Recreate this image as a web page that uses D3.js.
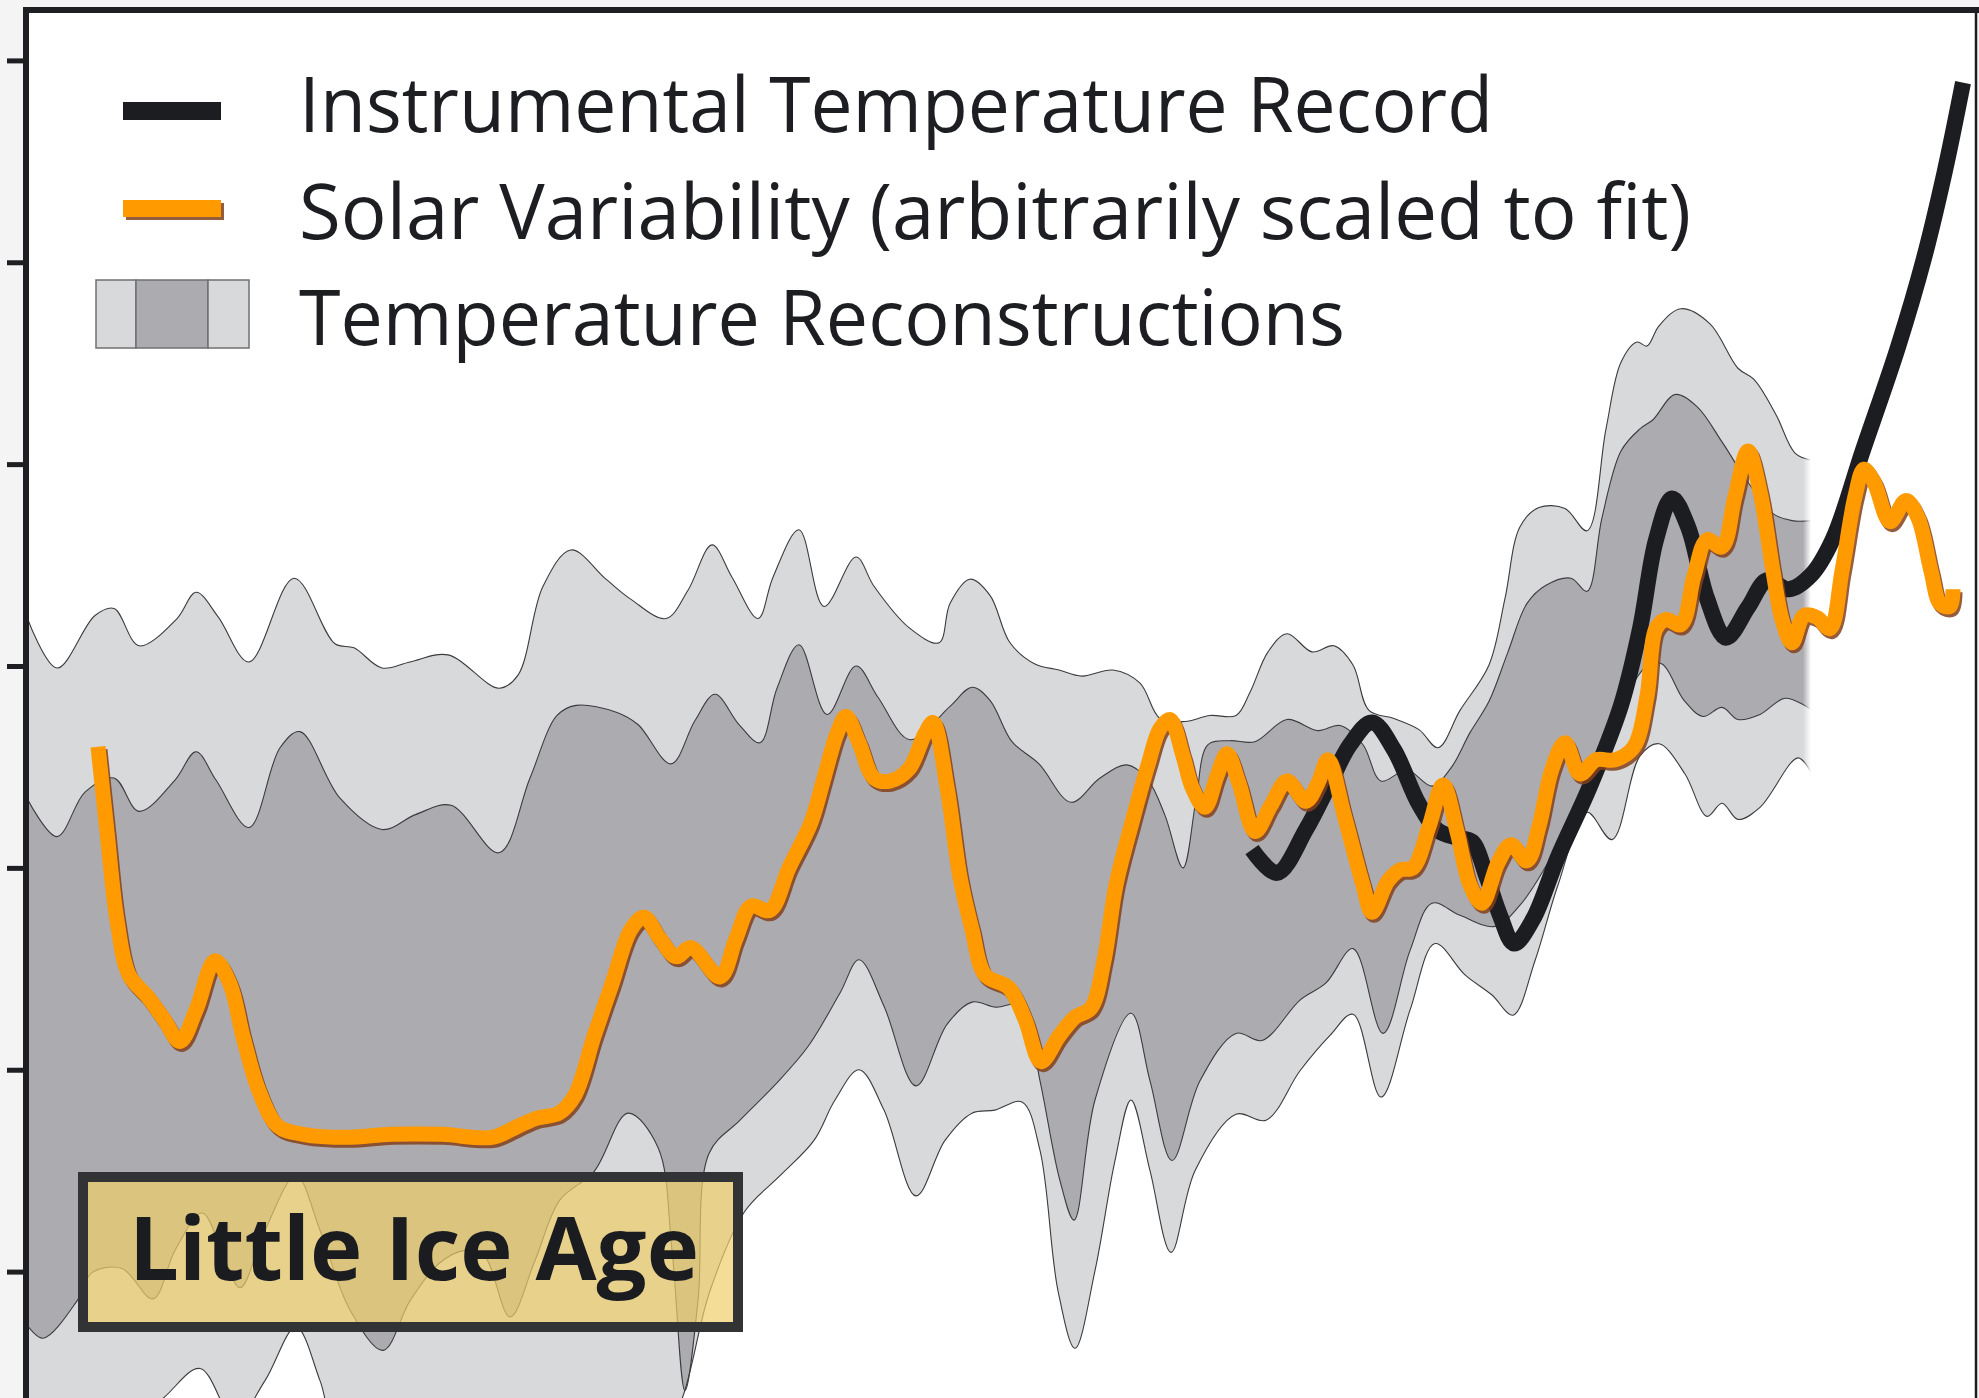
<!DOCTYPE html>
<html>
<head>
<meta charset="utf-8">
<script src="https://cdn.jsdelivr.net/npm/d3@7"></script>
<style>
  html, body { margin: 0; padding: 0; background: #f4f4f4; }
  svg { display: block; }
</style>
</head>
<body>
<div id="chart"></div>
<script>
const W = 1979, H = 1398;

// reconstruction envelopes, [year, anomaly degC]
const outerUpper = [[1610,-0.152],[1616,-0.202],[1623.6,-0.150],[1627.4,-0.143],[1632.4,-0.180],[1640,-0.153],[1643.8,-0.127],[1648.2,-0.151],[1654.4,-0.196],[1663.4,-0.113],[1671.6,-0.178],[1675.4,-0.182],[1681,-0.202],[1686.6,-0.196],[1694.2,-0.189],[1704.4,-0.222],[1708.2,-0.209],[1713.2,-0.121],[1718.8,-0.085],[1725.8,-0.114],[1730.8,-0.134],[1737.8,-0.153],[1742.2,-0.125],[1747,-0.080],[1751,-0.112],[1756.2,-0.153],[1759.2,-0.112],[1764.4,-0.065],[1769.4,-0.141],[1775.8,-0.092],[1779.4,-0.121],[1786.4,-0.162],[1792.4,-0.177],[1794.6,-0.138],[1798.6,-0.114],[1802.6,-0.130],[1806.6,-0.177],[1811.6,-0.198],[1816.4,-0.204],[1821,-0.210],[1827.2,-0.204],[1832.6,-0.217],[1836.6,-0.252],[1841.6,-0.255],[1846.6,-0.249],[1851.8,-0.249],[1854.6,-0.226],[1858.2,-0.186],[1862,-0.168],[1867,-0.186],[1871.4,-0.180],[1875.2,-0.199],[1878.4,-0.244],[1883.4,-0.252],[1888.4,-0.263],[1892.2,-0.281],[1896.6,-0.244],[1902.4,-0.199],[1905.6,-0.133],[1908.6,-0.062],[1912.4,-0.043],[1917.6,-0.044],[1922,-0.066],[1925.8,0.035],[1928.8,0.101],[1932,0.121],[1934,0.117],[1936.4,0.137],[1940.8,0.154],[1946.6,0.139],[1952.2,0.095],[1955.4,0.084],[1959.8,0.049],[1963.6,0.011],[1966.8,0.004]];

const innerUpper = [[1610,-0.331],[1616,-0.369],[1621.6,-0.325],[1627.4,-0.311],[1632.4,-0.344],[1639.6,-0.313],[1643.8,-0.285],[1647.8,-0.313],[1654.4,-0.360],[1660.6,-0.281],[1664.6,-0.265],[1672.6,-0.331],[1681,-0.362],[1687.8,-0.347],[1694.8,-0.338],[1704.4,-0.385],[1710.6,-0.311],[1716,-0.249],[1719.8,-0.239],[1728,-0.246],[1732.2,-0.258],[1738.8,-0.297],[1743.6,-0.254],[1747.6,-0.228],[1752.4,-0.258],[1756.6,-0.276],[1760,-0.222],[1764.4,-0.179],[1770,-0.248],[1775.8,-0.200],[1780.2,-0.231],[1786.6,-0.273],[1794.6,-0.240],[1799,-0.221],[1802.6,-0.234],[1807,-0.275],[1812.4,-0.297],[1818.8,-0.335],[1824.6,-0.311],[1830,-0.298],[1834.2,-0.313],[1837.6,-0.348],[1841.2,-0.400],[1843.8,-0.333],[1846.2,-0.278],[1850.6,-0.274],[1855.6,-0.275],[1862,-0.253],[1868.2,-0.264],[1872.6,-0.259],[1877.2,-0.278],[1880.8,-0.314],[1886,-0.303],[1891,-0.319],[1894.8,-0.301],[1898.6,-0.266],[1902.4,-0.235],[1906.2,-0.186],[1910,-0.138],[1913.8,-0.120],[1918.8,-0.113],[1922,-0.126],[1925,-0.053],[1928.8,0.013],[1932.6,0.035],[1935.2,0.044],[1939.6,0.069],[1944,0.057],[1949,0.022],[1954.2,-0.018],[1959.2,-0.049],[1963,-0.056],[1966.8,-0.056]];

const innerLower = [[1610,-0.853],[1613.2,-0.866],[1620,-0.829],[1623,-0.801],[1629,-0.797],[1635.2,-0.827],[1639.6,-0.779],[1645,-0.742],[1648.6,-0.774],[1652.6,-0.816],[1657.6,-0.759],[1663.8,-0.705],[1668.6,-0.759],[1674.6,-0.838],[1681.2,-0.878],[1686.6,-0.829],[1692.4,-0.792],[1697.6,-0.779],[1701.4,-0.784],[1706.6,-0.845],[1711.6,-0.789],[1716.6,-0.729],[1723.4,-0.701],[1730.2,-0.643],[1736.2,-0.677],[1739,-0.779],[1741.6,-0.918],[1744.2,-0.829],[1746.4,-0.683],[1752.6,-0.650],[1759.6,-0.615],[1766.2,-0.577],[1772.6,-0.524],[1776.4,-0.491],[1781.4,-0.537],[1787.8,-0.616],[1794,-0.555],[1799,-0.533],[1803.8,-0.538],[1809,-0.536],[1812.6,-0.611],[1816.6,-0.710],[1819.4,-0.749],[1823.6,-0.630],[1830.8,-0.544],[1834.6,-0.611],[1839,-0.690],[1844.6,-0.611],[1851.8,-0.564],[1857,-0.571],[1864.6,-0.531],[1869.8,-0.514],[1875.2,-0.480],[1881.2,-0.564],[1886.6,-0.482],[1891,-0.435],[1896.6,-0.447],[1903.6,-0.458],[1908.6,-0.437],[1913.6,-0.400],[1918.6,-0.353],[1923.8,-0.295],[1928.6,-0.242],[1934,-0.200],[1937,-0.198],[1941.4,-0.234],[1945.2,-0.250],[1949,-0.241],[1952.2,-0.253],[1956.6,-0.248],[1961.6,-0.232],[1966.8,-0.243]];

const outerLower = [[1610,-0.957],[1624.6,-0.967],[1636.6,-0.928],[1644.6,-0.896],[1651.6,-0.947],[1657.6,-0.908],[1663.8,-0.855],[1668.6,-0.908],[1672.6,-0.967],[1688.6,-0.997],[1708.6,-0.997],[1724.6,-0.987],[1736.6,-0.967],[1741,-0.926],[1746.6,-0.819],[1753.6,-0.740],[1760.6,-0.705],[1767.4,-0.670],[1771.6,-0.630],[1776.4,-0.600],[1781.4,-0.640],[1787.8,-0.725],[1793.6,-0.670],[1799,-0.643],[1803.6,-0.640],[1809,-0.632],[1812.6,-0.680],[1816.2,-0.819],[1819.6,-0.876],[1823.6,-0.799],[1827.6,-0.690],[1830.8,-0.630],[1834.6,-0.700],[1838.8,-0.781],[1843.6,-0.700],[1851.8,-0.644],[1857.8,-0.650],[1864.6,-0.601],[1870.6,-0.566],[1875.2,-0.545],[1880.8,-0.627],[1886.6,-0.541],[1891.6,-0.475],[1897.6,-0.506],[1903,-0.526],[1907.2,-0.546],[1911.6,-0.492],[1916.2,-0.417],[1922,-0.345],[1927,-0.372],[1932.6,-0.289],[1936.4,-0.277],[1941.6,-0.307],[1946,-0.349],[1949,-0.336],[1952.2,-0.352],[1956.6,-0.340],[1964.2,-0.291],[1966.8,-0.305]];

// smoothed instrumental record
const instrumental = [[1855,-0.382],[1860,-0.405],[1865.8,-0.362],[1870.8,-0.314],[1874.6,-0.278],[1879,-0.256],[1883.4,-0.283],[1888.4,-0.337],[1892.2,-0.363],[1896,-0.370],[1899,-0.374],[1902,-0.410],[1904.6,-0.447],[1907.4,-0.475],[1911.2,-0.451],[1916.2,-0.389],[1922.6,-0.319],[1928.8,-0.239],[1932.6,-0.163],[1935.8,-0.075],[1939,-0.034],[1942.2,-0.062],[1946,-0.133],[1949.8,-0.172],[1954.2,-0.142],[1958,-0.115],[1962.4,-0.124],[1966.8,-0.110],[1971.2,-0.074],[1977.2,0.014],[1984.2,0.116],[1989.4,0.204],[1993.6,0.291],[1997.2,0.378]];

// solar variability, scaled to temperature
const solar = [[1624.2,-0.280],[1626,-0.364],[1628,-0.452],[1630.4,-0.506],[1634.2,-0.528],[1637.4,-0.550],[1640.6,-0.572],[1643.8,-0.541],[1647.6,-0.492],[1650.6,-0.515],[1653.2,-0.567],[1656.4,-0.621],[1660.2,-0.656],[1665.2,-0.664],[1674,-0.667],[1682.8,-0.664],[1693,-0.664],[1703,-0.667],[1708.2,-0.656],[1712,-0.648],[1716.4,-0.643],[1719.6,-0.625],[1723.4,-0.567],[1727,-0.515],[1730.8,-0.461],[1733.4,-0.449],[1736.6,-0.470],[1739.8,-0.488],[1742.8,-0.479],[1748.6,-0.508],[1751.8,-0.470],[1754.8,-0.438],[1758.6,-0.442],[1762.4,-0.400],[1766.8,-0.355],[1769.4,-0.311],[1772,-0.267],[1773.8,-0.250],[1776.4,-0.276],[1779.4,-0.311],[1782.6,-0.314],[1786.4,-0.302],[1789.6,-0.267],[1791.2,-0.256],[1794,-0.320],[1796.6,-0.409],[1799,-0.461],[1801.6,-0.506],[1806.4,-0.519],[1809.6,-0.550],[1812.8,-0.592],[1816.4,-0.567],[1819.6,-0.548],[1822.8,-0.539],[1825.4,-0.492],[1827.8,-0.417],[1831,-0.355],[1834.2,-0.298],[1836.6,-0.262],[1838.6,-0.253],[1841.2,-0.289],[1843,-0.320],[1845.6,-0.340],[1848,-0.309],[1850,-0.287],[1852.4,-0.316],[1855.6,-0.364],[1858.8,-0.338],[1862,-0.314],[1865.8,-0.334],[1868.2,-0.316],[1870.2,-0.293],[1873.4,-0.347],[1877.2,-0.417],[1879,-0.444],[1882.2,-0.413],[1884.6,-0.402],[1887.2,-0.400],[1890.4,-0.359],[1893.2,-0.318],[1896,-0.364],[1898.6,-0.417],[1901,-0.435],[1904.2,-0.395],[1906.8,-0.377],[1910,-0.393],[1912.4,-0.359],[1915,-0.302],[1917.6,-0.276],[1920.6,-0.307],[1923.8,-0.293],[1927.6,-0.293],[1931.4,-0.280],[1934,-0.230],[1935.8,-0.163],[1937.8,-0.154],[1940.8,-0.159],[1943.4,-0.111],[1946,-0.075],[1949,-0.082],[1951.6,-0.032],[1954.2,0.013],[1956.6,-0.027],[1959.2,-0.106],[1961,-0.154],[1963,-0.177],[1965.4,-0.150],[1968,-0.152],[1970.6,-0.163],[1973,-0.106],[1975.6,-0.032],[1977.4,-0.005],[1979.4,-0.018],[1982.6,-0.057],[1985.8,-0.036],[1988.2,-0.053],[1990.8,-0.106],[1992.6,-0.138],[1994.6,-0.141],[1995.2,-0.124]];

const yTicks = [0.4, 0.2, 0, -0.2, -0.4, -0.6, -0.8];
const legendLabels = ["Instrumental Temperature Record", "Solar Variability (arbitrarily scaled to fit)", "Temperature Reconstructions"];
const periodLabel = "Little Ice Age";

const x = d3.scaleLinear().domain([1610, 2000]).range([27, 1977]);
const y = d3.scaleLinear().domain([0.4, -0.8]).range([60.4, 1271.6]);

const svg = d3.select("#chart").append("svg")
    .attr("width", W)
    .attr("height", H);

svg.append("rect").attr("width", W).attr("height", H).attr("fill", "#f4f4f4");
svg.append("rect").attr("x", 26).attr("y", 10).attr("width", 1950).attr("height", H - 10).attr("fill", "#fff");

const defs = svg.append("defs");
defs.append("clipPath").attr("id", "plot")
  .append("rect").attr("x", 27).attr("y", 12).attr("width", 1949).attr("height", H - 12);

// soft right end of the reconstruction bands
const endX = x(1966.8);
const grad = defs.append("linearGradient").attr("id", "fadeGrad")
    .attr("gradientUnits", "userSpaceOnUse")
    .attr("x1", endX - 8).attr("x2", endX).attr("y1", 0).attr("y2", 0);
grad.append("stop").attr("offset", 0).attr("stop-color", "#fff");
grad.append("stop").attr("offset", 1).attr("stop-color", "#000");
defs.append("mask").attr("id", "fade")
    .attr("maskUnits", "userSpaceOnUse")
    .attr("x", 0).attr("y", 0).attr("width", W).attr("height", H)
  .append("rect").attr("width", W).attr("height", H).attr("fill", "url(#fadeGrad)");

const edge = d3.line()
    .x(d => x(d[0]))
    .y(d => y(d[1]))
    .curve(d3.curveCatmullRom.alpha(0.5));

function band(top, bottom) {
  return edge(top) + edge(bottom.slice().reverse()).replace(/^M/, "L") + "Z";
}

const plot = svg.append("g").attr("clip-path", "url(#plot)");
const bands = plot.append("g").attr("mask", "url(#fade)");

bands.append("path").attr("d", band(outerUpper, outerLower)).attr("fill", "#d8d9db");
bands.append("path").attr("d", band(innerUpper, innerLower)).attr("fill", "#acabb0");

[outerUpper, innerUpper, innerLower, outerLower].forEach(s => {
  bands.append("path")
      .attr("d", edge(s))
      .attr("fill", "none")
      .attr("stroke", "#3c3c3e")
      .attr("stroke-width", 1.1);
});

plot.append("path")
    .attr("d", edge(instrumental))
    .attr("fill", "none")
    .attr("stroke", "#1c1d21")
    .attr("stroke-width", 16)
    .attr("stroke-linejoin", "round");

plot.append("path")
    .attr("d", edge(solar))
    .attr("transform", "translate(2,3)")
    .attr("fill", "none")
    .attr("stroke", "#83401c")
    .attr("stroke-opacity", 0.85)
    .attr("stroke-width", 15)
    .attr("stroke-linejoin", "round");

plot.append("path")
    .attr("d", edge(solar))
    .attr("fill", "none")
    .attr("stroke", "#ff9b00")
    .attr("stroke-width", 15)
    .attr("stroke-linejoin", "round");

// legend
const lg = svg.append("g");
lg.append("rect").attr("x", 123).attr("y", 102).attr("width", 98).attr("height", 18).attr("fill", "#1c1d21");
lg.append("rect").attr("x", 126).attr("y", 203).attr("width", 98).attr("height", 17).attr("fill", "#83401c").attr("opacity", 0.85);
lg.append("rect").attr("x", 123).attr("y", 200).attr("width", 98).attr("height", 17).attr("fill", "#ff9b00");
[[96, 40, "#d8d9db"], [136, 72, "#acabb0"], [208, 41, "#d8d9db"]].forEach(b => {
  lg.append("rect").attr("x", b[0]).attr("y", 280).attr("width", b[1]).attr("height", 68)
    .attr("fill", b[2]).attr("stroke", "#707072").attr("stroke-width", 1.5);
});

const labelWidths = [1194, 1392, 1046];
lg.selectAll("text.lbl")
  .data(legendLabels)
  .join("text")
    .attr("class", "lbl")
    .attr("x", 299)
    .attr("y", (d, i) => 132 + i * 106.5)
    .attr("textLength", (d, i) => labelWidths[i])
    .attr("lengthAdjust", "spacingAndGlyphs")
    .style("font-family", "'Open Sans', 'Noto Sans', sans-serif")
    .style("font-size", "77px")
    .style("fill", "#1d1e22")
    .text(d => d);

// Little Ice Age box
const box = svg.append("g");
box.append("rect")
    .attr("x", 83).attr("y", 1177).attr("width", 655).attr("height", 150)
    .attr("fill", "#f0ce69").attr("fill-opacity", 0.7)
    .attr("stroke", "#323334").attr("stroke-width", 10);
box.append("text")
    .attr("x", 129).attr("y", 1280)
    .attr("textLength", 570)
    .attr("lengthAdjust", "spacingAndGlyphs")
    .style("font-family", "'Open Sans', 'Noto Sans', sans-serif")
    .style("font-weight", "bold")
    .style("font-size", "87px")
    .style("fill", "#1b1c20")
    .text(periodLabel);

// frame and ticks
svg.append("line").attr("x1", 23).attr("x2", W).attr("y1", 10).attr("y2", 10)
    .attr("stroke", "#1e1f22").attr("stroke-width", 6);
svg.append("line").attr("x1", 26).attr("x2", 26).attr("y1", 7).attr("y2", H)
    .attr("stroke", "#1e1f22").attr("stroke-width", 6);
svg.append("line").attr("x1", 1976).attr("x2", 1976).attr("y1", 10).attr("y2", H)
    .attr("stroke", "#1e1f22").attr("stroke-width", 2.5);

svg.append("g")
    .attr("transform", "translate(27,0)")
    .call(d3.axisLeft(y).tickValues(yTicks).tickSize(20).tickSizeOuter(0).tickFormat(""))
    .call(g => g.select(".domain").remove())
    .call(g => g.selectAll("line").attr("stroke", "#1e1f22").attr("stroke-width", 5));
</script>
</body>
</html>
